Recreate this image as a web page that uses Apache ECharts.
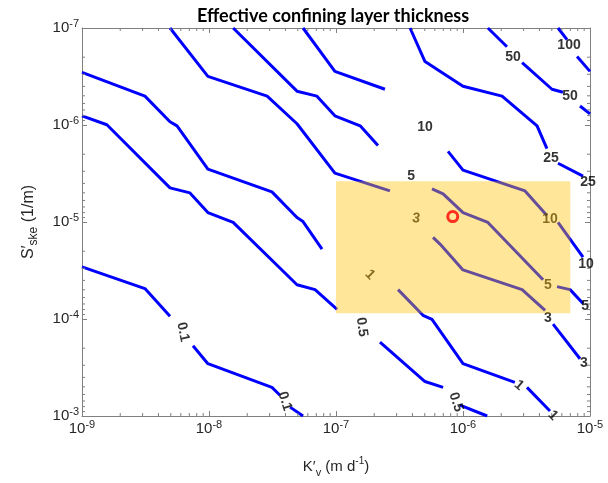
<!DOCTYPE html>
<html>
<head>
<meta charset="utf-8">
<script src="https://cdn.jsdelivr.net/npm/echarts@6/dist/echarts.min.js"></script>
<style>
  html, body { margin: 0; padding: 0; background: #fff; }
  #chart { width: 608px; height: 483px; }
</style>
</head>
<body>
<div id="chart"></div>
<script>
// axis decades and minor tick multipliers
const xDecades = [1e-9, 1e-8, 1e-7, 1e-6, 1e-5]
const yDecades = [1e-7, 1e-6, 1e-5, 1e-4, 1e-3]
const minorSteps = [2, 3, 4, 5, 6, 7, 8, 9]

// contour lines [K'v, S'ske], split where the inline labels cut them
const c0_1 = [
  [[1e-9, 2.9e-5], [3.13e-9, 4.86e-5], [4.93e-9, 9.38e-5]],
  [[7.48e-9, 1.89e-4], [9.8e-9, 2.89e-4], [3.13e-8, 5.07e-4], [3.62e-8, 6.11e-4]],
  [[4.35e-8, 8.1e-4], [5.5e-8, 1e-3]],
]
const c0_5 = [
  [[1e-9, 8.05e-7], [1.57e-9, 9.94e-7], [4.93e-9, 4.45e-6], [7.08e-9, 5.01e-6], [9.8e-9, 8.0e-6],
   [1.55e-8, 1.01e-5], [4.93e-8, 4.43e-5], [6.84e-8, 4.98e-5], [1.02e-7, 7.96e-5]],
  [[2.22e-7, 1.73e-4], [5.02e-7, 4.41e-4], [6.97e-7, 5.07e-4]],
  [[9.46e-7, 7.73e-4], [1.55e-6, 1e-3]],
]
const c1 = [
  [[1e-9, 2.87e-7], [3.13e-9, 5.04e-7], [4.93e-9, 9.27e-7], [5.6e-9, 1.02e-6], [9.8e-9, 2.85e-6],
   [3.13e-8, 4.89e-6], [4.93e-8, 9.0e-6], [5.5e-8, 9.89e-6], [7.76e-8, 1.9e-5]],
  [[3.08e-7, 4.98e-5], [4.84e-7, 9.16e-5], [5.7e-7, 1.01e-4], [1e-6, 2.89e-4], [2.56e-6, 4.51e-4]],
  [[3.19e-6, 5.07e-4], [4.84e-6, 8.89e-4]],
]
const c3 = [
  [[4.93e-9, 1e-7], [9.8e-9, 3.15e-7], [2.87e-8, 5.04e-7], [4.93e-8, 9.71e-7], [9.8e-8, 3.13e-6], [2.66e-7, 4.78e-6]],
  [[5.81e-7, 1.44e-5], [6.59e-7, 1.69e-5], [1e-6, 3.12e-5], [2.92e-6, 4.98e-5], [4.43e-6, 8.15e-5]],
  [[5.12e-6, 1.13e-4], [8.34e-6, 2.57e-4]],
]
const c5 = [
  [[1.55e-8, 1e-7], [4.93e-8, 4.48e-7], [7.08e-8, 5.04e-7], [9.8e-8, 8.05e-7], [1.55e-7, 1.02e-6], [2.14e-7, 1.63e-6]],
  [[5.7e-7, 4.56e-6], [6.97e-7, 5.13e-6], [1e-6, 8.0e-6], [1.57e-6, 1.01e-5], [4.27e-6, 3.94e-5]],
  [[5.5e-6, 4.64e-5], [6.97e-6, 4.98e-5], [8.81e-6, 6.92e-5]],
]
const c10 = [
  [[5.5e-8, 1e-7], [9.8e-8, 2.8e-7], [2.43e-7, 4.28e-7]],
  [[7.62e-7, 1.87e-6], [1e-6, 2.92e-6], [3.08e-6, 4.78e-6], [4.58e-6, 8.59e-6]],
  [[5.6e-6, 1.01e-5], [8.81e-6, 2.3e-5]],
]
const c25 = [
  [[3.83e-7, 1e-7], [5.02e-7, 2.22e-7], [1e-6, 3.98e-7], [2.03e-6, 5.04e-7], [3.83e-6, 1.02e-6], [4.58e-6, 1.75e-6]],
  [[5.6e-6, 2.48e-6], [8.81e-6, 3.36e-6]],
]
const c50 = [
  [[1.57e-6, 1e-7], [2.22e-6, 1.56e-7]],
  [[2.92e-6, 2.27e-7], [5.02e-6, 4.28e-7], [6.12e-6, 4.59e-7]],
  [[8.34e-6, 6.37e-7], [1e-5, 7.68e-7]],
]
const c100 = [
  [[5.6e-6, 1e-7], [6.59e-6, 1.32e-7]],
  [[7.91e-6, 1.97e-7], [1e-5, 2.8e-7]],
]
const contours = [c0_1, c0_5, c1, c3, c5, c10, c25, c50, c100]

// inline contour labels
const labelPos = [
  [6.24e-9, 1.36e-4], [3.96e-8, 7.04e-4],
  [1.6e-7, 1.21e-4], [8.81e-7, 7.2e-4],
  [1.85e-7, 3.51e-5], [2.76e-6, 4.83e-4], [5.12e-6, 9.9e-4],
  [4.27e-7, 9.2e-6], [4.67e-6, 9.82e-5], [8.97e-6, 2.82e-4],
  [3.9e-7, 3.36e-6], [4.67e-6, 4.43e-5], [9.14e-6, 7.41e-5],
  [5.02e-7, 1.04e-6], [4.84e-6, 9.44e-6], [9.3e-6, 2.71e-5],
  [4.93e-6, 2.21e-6], [9.64e-6, 3.87e-6],
  [2.48e-6, 2.02e-7], [6.97e-6, 5.04e-7],
  [6.84e-6, 1.52e-7],
]
const labelText = ['0.1', '0.1', '0.5', '0.5', '1', '1', '1', '3', '3', '3',
  '5', '5', '5', '10', '10', '10', '25', '25', '50', '50', '100']
const labelAngle = [-78, -72, -82, -72, -45, -40, -45, -8, 0, 0, 0, 0, 0, 0, 0, 0, 0, 0, 0, 0, 0]

// highlighted range and site
const boxK = [1e-7, 7e-6]
const boxS = [3.8e-6, 8.7e-5]
const site = [8.3e-7, 8.8e-6]

const axisColor = '#808080'
const textColor = '#262626'
const font = '"Liberation Sans", Arial, sans-serif'

const minorOf = decades => {
  const out = []
  decades.slice(0, -1).forEach(d => minorSteps.forEach(m => out.push(d * m)))
  return out
}
const xMinor = minorOf(xDecades)
const yMinor = minorOf(yDecades)
const xMin = xDecades[0], xMax = xDecades[xDecades.length - 1]
const yMin = yDecades[0], yMax = yDecades[yDecades.length - 1]

const powLabel = v => '{b|10}{s|' + Math.round(Math.log10(v)) + '}'
const powRich = {
  b: { fontSize: 15, lineHeight: 20, color: textColor, fontFamily: font },
  s: { fontSize: 11, lineHeight: 12, verticalAlign: 'top', color: textColor, fontFamily: font },
}

const makeAxis = (range, position, extra, labels) => Object.assign({
  type: 'log',
  logBase: 10,
  min: range[0],
  max: range[range.length - 1],
  position,
  splitLine: { show: false },
  minorTick: { show: false },
  axisLine: { show: true, lineStyle: { color: axisColor, width: 1 } },
  axisTick: { show: true, inside: true, length: 5, lineStyle: { color: axisColor } },
  axisLabel: labels
    ? { show: true, formatter: powLabel, rich: powRich, margin: 3 }
    : { show: false },
}, extra)

const tickLine = (x1, y1, x2, y2) => ({
  type: 'line',
  shape: { x1, y1, x2, y2 },
  style: { stroke: axisColor, lineWidth: 1 },
})

const lineSeries = []
contours.forEach(level => level.forEach(seg => lineSeries.push({
  type: 'line',
  data: seg,
  showSymbol: false,
  silent: true,
  z: 2,
  lineStyle: { color: '#0000ff', width: 3 },
})))

const chart = echarts.init(document.getElementById('chart'), null, { renderer: 'canvas' })
chart.setOption({
  animation: false,
  backgroundColor: '#ffffff',
  title: {
    text: 'Effective confining layer thickness',
    left: 192,
    top: 2,
    textStyle: { fontFamily: 'Lato, "Open Sans", sans-serif', fontWeight: 'bold', fontSize: 18, color: '#000' },
  },
  grid: { left: 82, right: 18, top: 28, bottom: 62, containLabel: false },
  xAxis: [
    makeAxis(xDecades, 'bottom', {
      name: '{a|K′}{sub|v}{a| (m d}{sup|-1}{a|)}',
      nameLocation: 'middle',
      nameGap: 40,
      nameTextStyle: {
        rich: {
          a: { fontSize: 15, color: textColor, fontFamily: font, lineHeight: 22 },
          sub: { fontSize: 11, color: textColor, fontFamily: font, lineHeight: 14, verticalAlign: 'bottom' },
          sup: { fontSize: 10, color: textColor, fontFamily: font, lineHeight: 12, verticalAlign: 'top' },
        },
      },
    }, true),
    makeAxis(xDecades, 'top', {}, false),
  ],
  yAxis: [
    makeAxis(yDecades, 'left', {
      inverse: true,
      name: '{a|S′}{sub|ske}{a| (1/m)}',
      nameLocation: 'middle',
      nameGap: 42,
      nameRotate: 90,
      nameTextStyle: {
        rich: {
          a: { fontSize: 16, color: textColor, fontFamily: font, lineHeight: 22 },
          sub: { fontSize: 12, color: textColor, fontFamily: font, lineHeight: 14, verticalAlign: 'bottom' },
        },
      },
    }, true),
    makeAxis(yDecades, 'right', { inverse: true }, false),
  ],
  series: [
    ...lineSeries,
    {
      type: 'scatter',
      z: 3,
      silent: true,
      symbolSize: 0,
      data: labelPos.map((p, i) => ({ value: p, label: { rotate: labelAngle[i] } })),
      label: {
        show: true,
        position: 'inside',
        formatter: p => labelText[p.dataIndex],
        fontFamily: font,
        fontWeight: 'bold',
        fontSize: 14,
        color: '#000',
      },
    },
    {
      // minor ticks on bottom and top, at 2..9 of each decade
      type: 'custom',
      z: 3,
      silent: true,
      clip: false,
      data: xMinor.map(v => [v, yMin]),
      renderItem: (params, api) => {
        const b = api.coord([api.value(0), yMax])
        const t = api.coord([api.value(0), yMin])
        return { type: 'group', children: [tickLine(b[0], b[1], b[0], b[1] - 3), tickLine(t[0], t[1], t[0], t[1] + 3)] }
      },
    },
    {
      // minor ticks on left and right
      type: 'custom',
      z: 3,
      silent: true,
      clip: false,
      data: yMinor.map(v => [xMin, v]),
      renderItem: (params, api) => {
        const l = api.coord([xMin, api.value(1)])
        const r = api.coord([xMax, api.value(1)])
        return { type: 'group', children: [tickLine(l[0], l[1], l[0] + 3, l[1]), tickLine(r[0], r[1], r[0] - 3, r[1])] }
      },
    },
    {
      type: 'line',
      z: 10,
      silent: true,
      data: [],
      markArea: {
        silent: true,
        z: 10,
        itemStyle: { color: 'rgba(255,192,0,0.4)', borderWidth: 0 },
        data: [[{ coord: [boxK[0], boxS[0]] }, { coord: [boxK[1], boxS[1]] }]],
      },
    },
    {
      type: 'scatter',
      z: 12,
      silent: true,
      symbol: 'circle',
      symbolSize: 10,
      data: [site],
      itemStyle: { color: 'rgba(0,0,0,0)', borderColor: '#ff0000', borderWidth: 3 },
    },
  ],
})
</script>
</body>
</html>
